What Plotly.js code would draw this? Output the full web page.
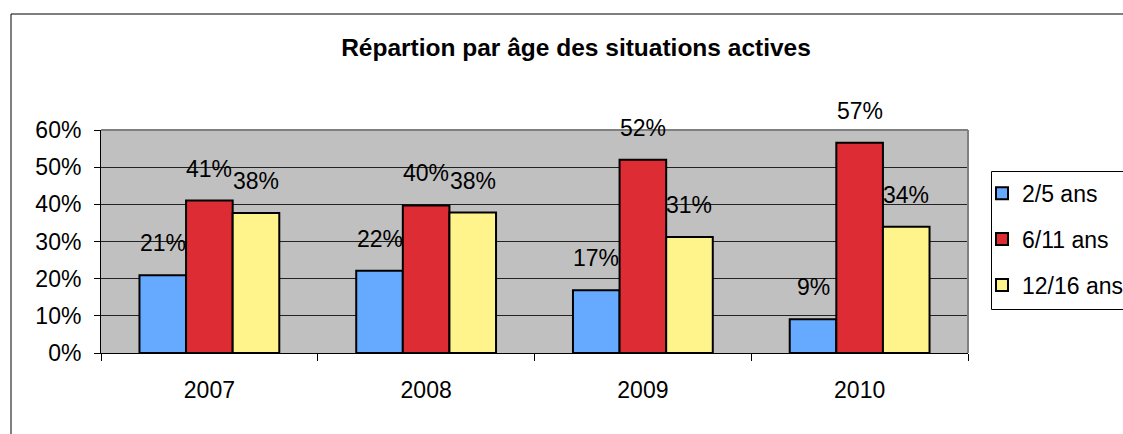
<!DOCTYPE html>
<html>
<head>
<meta charset="utf-8">
<script src="https://cdn.plot.ly/plotly-3.0.1.min.js"></script>
<style>html,body{margin:0;padding:0;background:#fff;}#chart{width:1123px;height:434px;}</style>
</head>
<body>
<div id="chart"></div>
<script>
const years = ['2007', '2008', '2009', '2010'];
const seriesNames = ['2/5 ans', '6/11 ans', '12/16 ans'];
const age2to5 = [20.9, 22.1, 16.9, 9.1];
const age6to11 = [41.0, 39.7, 52.0, 56.6];
const age12to16 = [37.7, 37.8, 31.2, 34.0];
const yTicks = [0, 10, 20, 30, 40, 50, 60];
const titleText = 'Répartion par âge des situations actives';

const seriesValues = [age2to5, age6to11, age12to16];
const colors = ['#66AAFF', '#DD2C33', '#FFF48C'];
const FONT = 'Arial, "Liberation Sans", sans-serif';
const bargap = 0.355;

const traces = seriesValues.map((vals, j) => ({
  type: 'bar',
  name: seriesNames[j],
  x: years,
  y: vals,
  marker: {color: colors[j], line: {color: '#000', width: 2}},
  legendgroup: 'g' + j,
  hoverinfo: 'skip'
}));

// data labels positioned through the category axis (index units)
const annotations = [];
const bw = (1 - bargap) / 3;
seriesValues.forEach((vals, j) => {
  vals.forEach((v, i) => {
    annotations.push({
      xref: 'x', yref: 'y',
      x: i + (j - 1) * bw,
      y: v,
      text: Math.round(v) + '%',
      showarrow: false,
      yanchor: 'bottom',
      xanchor: 'center',
      yshift: 17,
      font: {family: FONT, size: 23, color: '#000'}
    });
  });
});

// geometry (pixels) -> paper
const W = 1123, H = 434, L = 101, R = 155, T = 130, B = 81;
const pw = W - L - R, ph = H - T - B;
const px = v => (v - L) / pw;
const py = v => (H - B - v) / ph;

const shapes = [
  // outer chart border
  {type: 'rect', xref: 'paper', yref: 'paper', x0: px(11), x1: px(1140), y0: py(460), y1: py(14),
   line: {color: '#000', width: 1}, fillcolor: 'rgba(0,0,0,0)', layer: 'above'},
  // legend box
  {type: 'rect', xref: 'paper', yref: 'paper', x0: px(991.5), x1: px(1140), y0: py(309.5), y1: py(171.5),
   line: {color: '#000', width: 1}, fillcolor: '#fff', layer: 'below'},
  // top and right plot-area edges (gray)
  {type: 'line', xref: 'paper', yref: 'paper', x0: 0, x1: 1, y0: 1, y1: 1, line: {color: '#808080', width: 2}, layer: 'above'},
  {type: 'line', xref: 'paper', yref: 'paper', x0: 1, x1: 1, y0: 0, y1: 1, line: {color: '#808080', width: 2}, layer: 'above'}
];

const layout = {
  width: W, height: H,
  margin: {l: L, r: R, t: T, b: B, pad: 0, autoexpand: false},
  paper_bgcolor: '#fff',
  plot_bgcolor: '#C0C0C0',
  font: {family: FONT, size: 23, color: '#000'},
  title: {text: '<b>' + titleText + '</b>', font: {family: FONT, size: 24.5, color: '#000'},
          x: 576 / W, xanchor: 'center', y: 1 - 47 / H, yanchor: 'middle'},
  barmode: 'group',
  bargap: bargap,
  bargroupgap: 0,
  xaxis: {
    type: 'category',
    showgrid: false,
    showline: true, linecolor: '#000', linewidth: 1,
    ticks: 'outside', ticklen: 7, tickcolor: '#000', tickwidth: 1,
    tickson: 'boundaries',
    ticklabelstandoff: 16,
    tickfont: {family: FONT, size: 23, color: '#000'},
    fixedrange: true
  },
  yaxis: {
    range: [0, 60],
    tickvals: yTicks,
    ticktext: yTicks.map(t => t + '%'),
    showgrid: true, gridcolor: '#222', gridwidth: 1,
    showline: true, linecolor: '#000', linewidth: 1,
    ticks: 'outside', ticklen: 6, tickcolor: '#000',
    ticklabelstandoff: 8,
    zeroline: false,
    tickfont: {family: FONT, size: 23, color: '#000'},
    fixedrange: true
  },
  showlegend: true,
  legend: {
    x: px(982), y: py(171.7), xanchor: 'left', yanchor: 'top',
    bgcolor: 'rgba(0,0,0,0)', borderwidth: 0,
    font: {family: FONT, size: 23, color: '#000'},
    traceorder: 'grouped', tracegroupgap: 13,
    itemwidth: 30
  },
  annotations: annotations,
  shapes: shapes
};

Plotly.newPlot('chart', traces, layout, {staticPlot: true, displayModeBar: false});
</script>
</body>
</html>
